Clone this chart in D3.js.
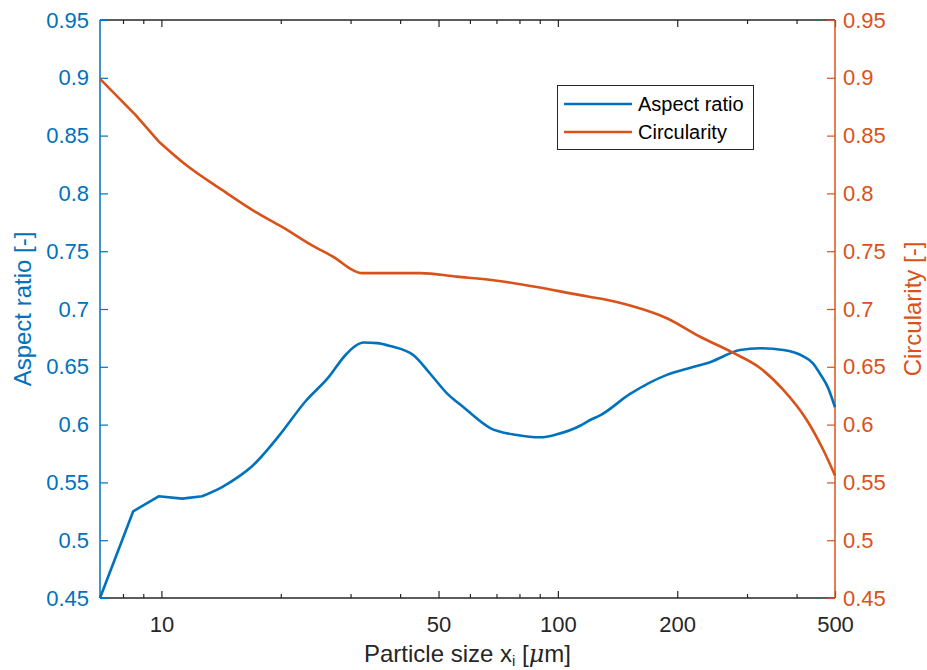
<!DOCTYPE html>
<html>
<head>
<meta charset="utf-8">
<script src="https://cdn.jsdelivr.net/npm/d3@7"></script>
<style>
  html, body { margin: 0; padding: 0; background: #fff; }
  svg { display: block; font-family: "Liberation Sans", Arial, Helvetica, sans-serif; }
</style>
</head>
<body>
<svg id="chart" width="927" height="670"></svg>
<script>
// Particle size classes [µm] and shape descriptors
const aspectSize = [7, 8.49, 9.84, 11.28, 12.66, 14.22, 15.66, 16.93, 19.76, 23.07, 26.41, 29.09, 30.83, 32.36, 35, 37.78, 43.25, 47.65, 52.52, 57.81, 67.5, 78.81, 90.25, 99.4, 113.8, 120.6, 127.8, 152.1, 188.3, 215, 242.1, 288.1, 323.5, 370.4, 416, 440, 458.3, 480, 500];
const aspectRatio = [0.450, 0.525, 0.538, 0.536, 0.538, 0.546, 0.555, 0.564, 0.590, 0.620, 0.641, 0.660, 0.668, 0.671, 0.6705, 0.668, 0.660, 0.644, 0.627, 0.615, 0.597, 0.591, 0.589, 0.5916, 0.599, 0.604, 0.608, 0.6265, 0.643, 0.649, 0.654, 0.6645, 0.666, 0.6645, 0.659, 0.653, 0.644, 0.632, 0.615];

const circSize = [7, 8.6, 9.84, 11.5, 14.22, 17.26, 20.15, 23.98, 27.46, 30.24, 32.05, 44.98, 55.65, 70.19, 88.53, 113.8, 127.8, 152.1, 188.3, 228.4, 277.1, 323.5, 370.4, 424.3, 467.2, 500];
const circularity = [0.899, 0.868, 0.845, 0.825, 0.803, 0.784, 0.771, 0.755, 0.744, 0.734, 0.731, 0.731, 0.728, 0.7245, 0.719, 0.712, 0.709, 0.703, 0.692, 0.676, 0.662, 0.649, 0.630, 0.604, 0.578, 0.556];

const xMajorTicks = [10, 50, 100, 200, 500];
const xMinorTicks = [8, 9, 20, 30, 40, 60, 70, 80, 90, 300, 400];
const yTicks = [0.45, 0.5, 0.55, 0.6, 0.65, 0.7, 0.75, 0.8, 0.85, 0.9, 0.95];
const yTickLabels = ["0.45", "0.5", "0.55", "0.6", "0.65", "0.7", "0.75", "0.8", "0.85", "0.9", "0.95"];

const seriesNames = ["Aspect ratio", "Circularity"];

const BLUE = "#0072BD";
const ORANGE = "#D95319";
const DARK = "#262626";
const TICK_FONT = 22;
const LABEL_FONT = 24;
const LEGEND_FONT = 20;

const svg = d3.select("#chart");
const L = 100, R = 835, T = 20, B = 598;

const x = d3.scaleLog().domain([7, 500]).range([L, R]);
const yLeft = d3.scaleLinear().domain([0.45, 0.95]).range([B, T]);
const yRight = d3.scaleLinear().domain([0.45, 0.95]).range([B, T]);

const labelOf = v => yTickLabels[yTicks.indexOf(v)];

function styleX(g) {
  g.attr("font-family", null);
  g.selectAll("path.domain").attr("stroke", DARK).attr("stroke-width", 1.5).attr("d", `M${L},0H${R}`);
  g.selectAll(".tick line").attr("stroke", DARK).attr("stroke-width", 1.2);
  g.selectAll(".tick text").attr("fill", DARK).attr("font-size", TICK_FONT);
}

// Bottom axis (major + minor ticks, pointing inward)
svg.append("g").attr("transform", `translate(0,${B})`)
  .call(d3.axisBottom(x).tickValues(xMajorTicks).tickFormat(d3.format("d")).tickSize(-7).tickPadding(18))
  .call(styleX);
svg.append("g").attr("transform", `translate(0,${B})`)
  .call(d3.axisBottom(x).tickValues(xMinorTicks).tickFormat("").tickSize(-4))
  .call(g => g.select(".domain").remove())
  .call(styleX);

// Top box edge with mirrored ticks
svg.append("g").attr("transform", `translate(0,${T})`)
  .call(d3.axisTop(x).tickValues(xMajorTicks).tickFormat("").tickSize(-7))
  .call(styleX);
svg.append("g").attr("transform", `translate(0,${T})`)
  .call(d3.axisTop(x).tickValues(xMinorTicks).tickFormat("").tickSize(-4))
  .call(g => g.select(".domain").remove())
  .call(styleX);

function styleY(color) {
  return g => {
    g.attr("font-family", null);
    g.select(".domain").attr("stroke", color).attr("stroke-width", 1.5).attr("d", `M0,${B}V${T}`);
    g.selectAll(".tick line").attr("stroke", color).attr("stroke-width", 1.2);
    g.selectAll(".tick text").attr("fill", color).attr("font-size", TICK_FONT);
  };
}

// Left axis (aspect ratio)
svg.append("g").attr("transform", `translate(${L},0)`)
  .call(d3.axisLeft(yLeft).tickValues(yTicks).tickFormat(labelOf).tickSize(-8).tickPadding(11))
  .call(styleY(BLUE));

// Right axis (circularity)
svg.append("g").attr("transform", `translate(${R},0)`)
  .call(d3.axisRight(yRight).tickValues(yTicks).tickFormat(labelOf).tickSize(-8).tickPadding(8))
  .call(styleY(ORANGE));

// Curves: straight segments over the coarse first classes, smooth beyond
svg.append("clipPath").attr("id", "plotArea")
  .append("rect").attr("x", L - 2).attr("y", T - 2).attr("width", R - L + 4).attr("height", B - T + 4);

function curvePath(sizes, values, yScale, straightUntil) {
  const pts = d3.zip(sizes, values);
  const straight = d3.line().x(d => x(d[0])).y(d => yScale(d[1]));
  const smooth = d3.line().x(d => x(d[0])).y(d => yScale(d[1])).curve(d3.curveMonotoneX);
  const head = straight(pts.slice(0, straightUntil + 1));
  const tail = smooth(pts.slice(straightUntil)).replace(/^M/, "L");
  return head + tail;
}

const plot = svg.append("g").attr("clip-path", "url(#plotArea)");
plot.append("path")
  .attr("fill", "none").attr("stroke", BLUE).attr("stroke-width", 2.6)
  .attr("stroke-linejoin", "round")
  .attr("d", curvePath(aspectSize, aspectRatio, yLeft, 4));
plot.append("path")
  .attr("fill", "none").attr("stroke", ORANGE).attr("stroke-width", 2.6)
  .attr("stroke-linejoin", "round")
  .attr("d", curvePath(circSize, circularity, yRight, 2));

// Axis titles
const xTitle = svg.append("text").attr("x", (L + R) / 2).attr("y", 662)
  .attr("text-anchor", "middle").attr("font-size", LABEL_FONT).attr("fill", DARK);
xTitle.append("tspan").text("Particle size x");
xTitle.append("tspan").attr("font-size", 15).attr("dy", 4).text("i");
xTitle.append("tspan").attr("dy", -4).text(" [");
xTitle.append("tspan").attr("font-style", "italic").attr("font-family", "'DejaVu Serif', serif").text("μ");
xTitle.append("tspan").text("m]");

svg.append("text")
  .attr("transform", `translate(31,${(T + B) / 2}) rotate(-90)`)
  .attr("text-anchor", "middle").attr("font-size", LABEL_FONT).attr("fill", BLUE)
  .text("Aspect ratio [-]");

svg.append("text")
  .attr("transform", `translate(921,${(T + B) / 2}) rotate(-90)`)
  .attr("text-anchor", "middle").attr("font-size", LABEL_FONT).attr("fill", ORANGE)
  .text("Circularity [-]");

// Legend
const legend = svg.append("g");
legend.append("rect").attr("x", 557.5).attr("y", 85.5).attr("width", 196).attr("height", 64)
  .attr("fill", "#fff").attr("stroke", DARK).attr("stroke-width", 1);
const legendColors = [BLUE, ORANGE];
const legendY = [104, 132];
seriesNames.forEach((name, i) => {
  legend.append("line").attr("x1", 564).attr("x2", 632).attr("y1", legendY[i]).attr("y2", legendY[i])
    .attr("stroke", legendColors[i]).attr("stroke-width", 2.6);
  legend.append("text").attr("x", 638).attr("y", legendY[i]).attr("dy", "0.35em")
    .attr("font-size", LEGEND_FONT).attr("fill", "#000").text(name);
});
</script>
</body>
</html>
